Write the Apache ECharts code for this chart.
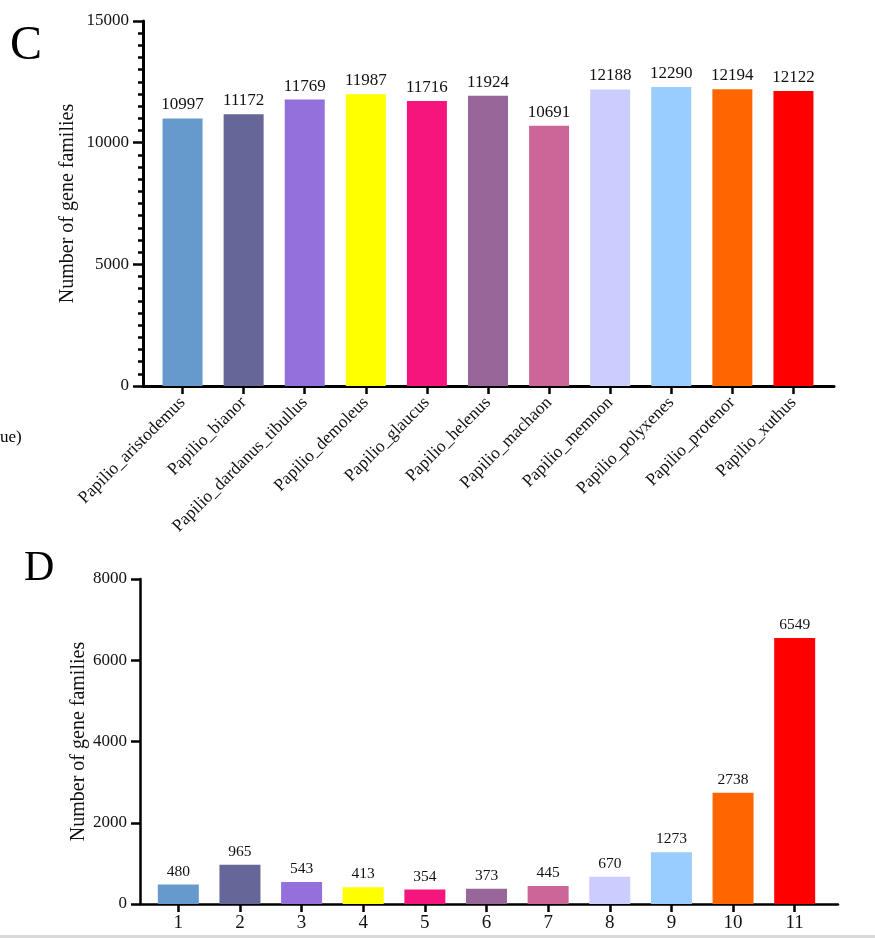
<!DOCTYPE html>
<html><head><meta charset="utf-8">
<script src="https://cdn.jsdelivr.net/npm/echarts@6/dist/echarts.min.js"></script>
<style>html,body{margin:0;padding:0;background:#fff}#c{width:875px;height:938px}</style>
</head><body><div id="c"></div>
<script>
// Panel C: number of gene families per species
const speciesNames = ['Papilio_aristodemus','Papilio_bianor','Papilio_dardanus_tibullus','Papilio_demoleus','Papilio_glaucus','Papilio_helenus','Papilio_machaon','Papilio_memnon','Papilio_polyxenes','Papilio_protenor','Papilio_xuthus'];
const familyCounts = [10997, 11172, 11769, 11987, 11716, 11924, 10691, 12188, 12290, 12194, 12122];
// Panel D: gene families shared by N species
const sharedLabels = ['1','2','3','4','5','6','7','8','9','10','11'];
const sharedCounts = [480, 965, 543, 413, 354, 373, 445, 670, 1273, 2738, 6549];
const barColors = ['#6699CC','#666699','#9370DB','#FFFF00','#F5167D','#996699','#CC6699','#CCCCFF','#99CCFF','#FF6600','#FF0000'];
const yTicksC = [0, 5000, 10000, 15000];
const yTicksD = [0, 2000, 4000, 6000, 8000];
const yTitle = 'Number of gene families';

const F = 'Liberation Serif';
const TXT = '#111';
const chart = echarts.init(document.getElementById('c'), null, {renderer:'canvas'});
const blackLine = w => ({show:true, lineStyle:{color:'#000', width:w}});
const hiddenAxis = {type:'value', min:0, max:1, show:false};
const plain = v => String(v);

chart.setOption({
  animation:false,
  backgroundColor:'#fff',
  grid:[
    {left:152, top:21, width:672, height:365},
    {left:143, top:21, width:691, height:365},
    {left:147.5, top:579, width:678, height:325},
    {left:140, top:579, width:698, height:325}
  ],
  xAxis:[
    {type:'category', gridIndex:0, data:speciesNames,
     axisLine:{show:false},
     axisTick:{show:true, alignWithLabel:true, length:8, lineStyle:{color:'#000', width:2.5}},
     axisLabel:{rotate:45, fontFamily:F, fontSize:17.5, color:TXT, margin:14}},
    {type:'value', gridIndex:1, min:0, max:1, axisLine:blackLine(3), axisTick:{show:false}, axisLabel:{show:false}, splitLine:{show:false}},
    {type:'category', gridIndex:2, data:sharedLabels,
     axisLine:{show:false},
     axisTick:{show:true, alignWithLabel:true, length:8, lineStyle:{color:'#000', width:2.5}},
     axisLabel:{fontFamily:F, fontSize:19, color:TXT, margin:10}},
    {type:'value', gridIndex:3, min:0, max:1, axisLine:blackLine(2.5), axisTick:{show:false}, axisLabel:{show:false}, splitLine:{show:false}}
  ],
  yAxis:[
    {type:'value', gridIndex:0, min:yTicksC[0], max:yTicksC[yTicksC.length-1], interval:yTicksC[1]-yTicksC[0], offset:9,
     axisLine:blackLine(3),
     axisTick:{show:true, length:10, lineStyle:{color:'#000', width:2.5}},
     minorTick:{show:true, splitNumber:10, length:5, lineStyle:{color:'#000', width:2.5}},
     splitLine:{show:false},
     axisLabel:{fontFamily:F, fontSize:17, color:TXT, margin:14, formatter:plain},
     name:yTitle, nameLocation:'middle', nameGap:65, nameMoveOverlap:false,
     nameTextStyle:{fontFamily:F, fontSize:20, color:TXT}},
    Object.assign({gridIndex:1}, hiddenAxis),
    {type:'value', gridIndex:2, min:yTicksD[0], max:yTicksD[yTicksD.length-1], interval:yTicksD[1]-yTicksD[0], offset:7.5,
     axisLine:blackLine(2.5),
     axisTick:{show:true, length:9, lineStyle:{color:'#000', width:2.5}},
     splitLine:{show:false},
     axisLabel:{fontFamily:F, fontSize:17, color:TXT, margin:13, formatter:plain},
     name:yTitle, nameLocation:'middle', nameGap:51, nameMoveOverlap:false,
     nameTextStyle:{fontFamily:F, fontSize:20, color:TXT}},
    Object.assign({gridIndex:3}, hiddenAxis)
  ],
  series:[
    {type:'bar', xAxisIndex:0, yAxisIndex:0, data:familyCounts, barWidth:40,
     itemStyle:{color:p=>barColors[p.dataIndex]},
     label:{show:true, position:'top', distance:5, fontFamily:F, fontSize:17, color:TXT}},
    {type:'bar', xAxisIndex:2, yAxisIndex:2, data:sharedCounts, barWidth:41,
     itemStyle:{color:p=>barColors[p.dataIndex]},
     label:{show:true, position:'top', distance:5, fontFamily:F, fontSize:15.5, color:TXT}}
  ],
  graphic:[
    {type:'text', left:10, top:22, style:{text:'C', font:'48px "Liberation Serif"', fill:'#000'}},
    {type:'text', left:24, top:548, style:{text:'D', font:'42px "Liberation Serif"', fill:'#000'}},
    {type:'text', left:0, top:429, style:{text:'ue)', font:'17px "Liberation Serif"', fill:'#000'}},
    {type:'rect', left:0, top:935, shape:{width:875, height:3}, style:{fill:'#d9d9d9'}}
  ]
});
</script></body></html>
